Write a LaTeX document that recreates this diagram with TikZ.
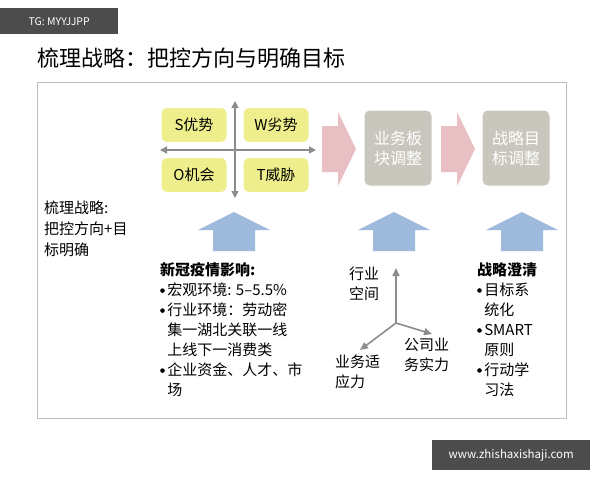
\documentclass[tikz,border=0pt]{standalone}
\usepackage{fontspec}
\setmainfont{Noto Sans CJK SC}
\usetikzlibrary{arrows.meta}
\definecolor{swot}{HTML}{EEEF8C}
\definecolor{pinkar}{HTML}{E8BFC3}
\definecolor{graybox}{HTML}{C9C7BD}
\definecolor{bluear}{HTML}{9DB9DC}
\definecolor{axisg}{HTML}{8C8C8C}
\newcommand{\bul}{\raisebox{0.15em}{\tikz\fill (0,0) circle (2.3pt);}\,}
\newcommand{\bsp}{\hphantom{\bul}}
\tikzset{
 swotbox/.style={fill=swot,draw=white,line width=1pt,rounded corners=6pt,minimum width=66pt,minimum height=35pt,font=\fontsize{15}{15}\selectfont,inner sep=0},
 gbox/.style={fill=graybox,draw=white,line width=1pt,rounded corners=6pt,minimum width=68pt,minimum height=76pt,font=\fontsize{16}{20}\selectfont,text=white,align=center,inner sep=0},
 ax/.style={draw=axisg,line width=1.6pt,-{Triangle[length=8pt,width=7pt]}},
 txt/.style={font=\fontsize{15}{20}\selectfont,align=left,anchor=north west,inner sep=0},
}
\begin{document}
\begin{tikzpicture}[x=1pt,y=-1pt]
\useasboundingbox (0,0) rectangle (600,480);
\fill[white] (0,0) rectangle (600,480);
\node[fill=black!70,text=white,font=\fontsize{10.5}{10}\selectfont,minimum width=118pt,minimum height=26pt,anchor=north west,inner sep=0] (tag) at (0,8) {TG: MYYJJPP};
\node[anchor=west,font=\fontsize{22}{22}\selectfont,inner sep=0] (title) at (37,58) {梳理战略：把控方向与明确目标};
\draw[black!25,line width=1pt] (37,82) rectangle (566,418);
% SWOT
\node[swotbox] (s) at (194,125) {S优势};
\node[swotbox] (w) at (276,125) {W劣势};
\node[swotbox] (o) at (194,175) {O机会};
\node[swotbox] (t) at (276,175) {T威胁};
\coordinate (hl) at (160,150); \coordinate (hr) at (316,150);
\coordinate (vt) at (235,101); \coordinate (vb) at (235,198);
\draw[draw=axisg,line width=1.5pt,{Triangle[length=7pt,width=7pt]}-{Triangle[length=7pt,width=7pt]}] (hl) -- (hr);
\draw[draw=axisg,line width=1.5pt,{Triangle[length=7pt,width=7pt]}-{Triangle[length=7pt,width=7pt]}] (vt) -- (vb);
% pink arrows
\fill[pinkar] (322,126) -- (338,126) -- (338,112) -- (356,149) -- (338,186) -- (338,172) -- (322,172) -- cycle;
\fill[pinkar] (441,126) -- (457,126) -- (457,112) -- (475,149) -- (457,186) -- (457,172) -- (441,172) -- cycle;
\node[gbox] (b1) at (398,148) {业务板\\块调整};
\node[gbox] (b2) at (516,148) {战略目\\标调整};
% blue arrows
\fill[bluear] (213,251) -- (213,230) -- (198,230) -- (234,212) -- (270,230) -- (255,230) -- (255,251) -- cycle;
\fill[bluear] (373,251) -- (373,230) -- (358,230) -- (394,212) -- (430,230) -- (415,230) -- (415,251) -- cycle;
\fill[bluear] (501,251) -- (501,230) -- (486,230) -- (522,212) -- (558,230) -- (543,230) -- (543,251) -- cycle;
% left text
\node[txt,font=\fontsize{15}{21}\selectfont] (lt) at (44,201) {梳理战略:\\把控方向+目\\标明确};
% bottom texts
\node[txt] (c1) at (160,262) {\textbf{新冠疫情影响:}\\\bul 宏观环境: 5–5.5\%\\\bul 行业环境：劳动密\\\bsp 集一湖北关联一线\\\bsp 上线下一消费类\\\bul 企业资金、人才、市\\\bsp 场};
\node[txt] (c3) at (477,262) {\textbf{战略澄清}\\\bul 目标系\\\bsp 统化\\\bul SMART\\\bsp 原则\\\bul 行动学\\\bsp 习法};
% axes
\coordinate (org) at (396,323);
\coordinate (up) at (396,268);
\coordinate (rt) at (432,334);
\coordinate (ll) at (360,350);
\draw[ax] (org) -- (up);
\draw[ax] (org) -- (rt);
\draw[ax] (org) -- (ll);
\node[txt] (a1) at (349,267) {行业\\空间};
\node[txt] (a2) at (404,338) {公司业\\务实力};
\node[txt] (a3) at (335,355) {业务适\\应力};
% watermark
\node[fill=black!70,text=white,font=\fontsize{11.5}{11}\selectfont,minimum width=158pt,minimum height=30pt,anchor=north west,inner sep=0] (wm) at (432,440) {www.zhishaxishaji.com};
\end{tikzpicture}
\end{document}
